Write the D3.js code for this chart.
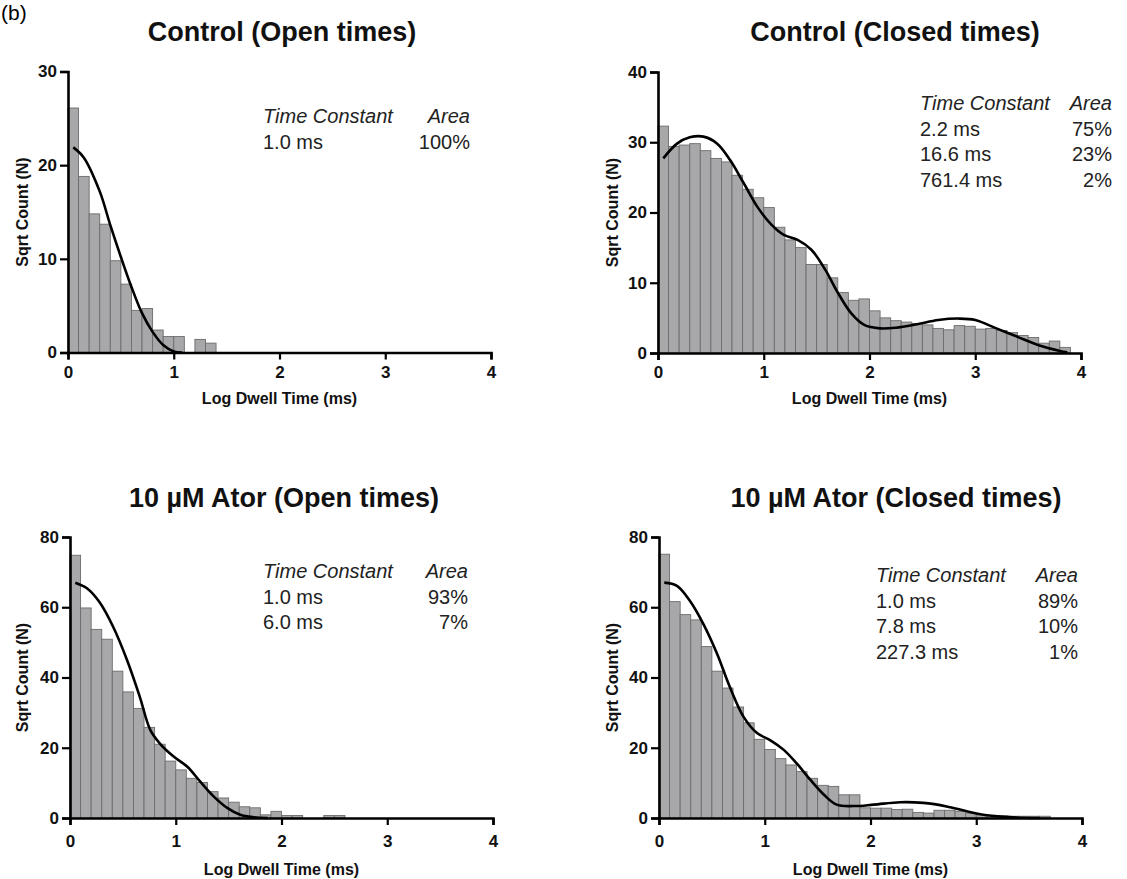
<!DOCTYPE html>
<html>
<head>
<meta charset="utf-8">
<script src="https://cdn.jsdelivr.net/npm/d3@7"></script>
<style>
  body { margin: 0; background: #fff; }
  svg text { font-family: Arial, "Liberation Sans", sans-serif; }
</style>
</head>
<body>
<div class="chart-value"></div>
<script>
// bins are 0.1 log units wide, starting at 0
var binWidth = 0.1;

var xTicks = [0, 1, 2, 3, 4];
var yTicksCtrlOpen = [0, 10, 20, 30];
var yTicksCtrlClosed = [0, 10, 20, 30, 40];
var yTicksAtor = [0, 20, 40, 60, 80];

var titles = ["Control (Open times)", "Control (Closed times)",
              "10 µM Ator (Open times)", "10 µM Ator (Closed times)"];

var ctrlOpenCounts = [26.1, 18.8, 14.8, 13.7, 9.8, 7.3, 4.5, 4.7, 2.4, 1.7, 1.7, 0, 1.4, 1.0];
var ctrlClosedCounts = [32.3, 29.4, 29.6, 29.8, 28.8, 27.7, 27.2, 25.3, 23.3, 22.1,
                        20.7, 17.9, 16.1, 15.0, 12.6, 12.6, 10.7, 8.6, 7.5, 7.7,
                        6.0, 5.0, 4.6, 4.4, 4.2, 4.0, 3.5, 3.3, 3.9, 3.8,
                        3.4, 3.5, 3.2, 2.9, 2.5, 2.2, 1.4, 1.7, 0.8];
var atorOpenCounts = [74.8, 59.8, 53.7, 50.9, 41.8, 35.9, 31.2, 25.8, 21.0, 16.2,
                      13.7, 11.3, 10.1, 7.5, 5.7, 4.5, 3.2, 2.9, 0.9, 1.9,
                      0.7, 0.7, 0, 0, 0.7, 0.7];
var atorClosedCounts = [75.1, 61.6, 57.9, 56.4, 48.8, 41.8, 37.0, 31.6, 27.1, 22.4,
                        19.5, 16.9, 15.1, 13.2, 11.3, 9.3, 9.0, 6.6, 6.6, 2.9,
                        2.8, 2.8, 2.4, 2.5, 1.6, 1.4, 2.2, 2.2, 1.9, 1.4,
                        0.9, 0.7, 0.6, 0.5, 0.5, 0.5, 0.5];

// fitted curves as [log time, sqrt count]
var ctrlOpenFit = [[0.05, 21.9], [0.15, 20.8], [0.3, 17.2], [0.4, 13.6], [0.5, 10.2],
                   [0.6, 7.0], [0.7, 4.2], [0.8, 2.2], [0.9, 0.8], [1.0, 0.1], [1.08, 0]];
var ctrlClosedFit = [[0.05, 27.7], [0.18, 29.8], [0.3, 30.7], [0.43, 30.8], [0.56, 29.8],
                     [0.68, 27.5], [0.81, 24.2], [0.94, 20.8], [1.07, 18.3], [1.19, 16.8],
                     [1.32, 16.1], [1.45, 14.7], [1.58, 11.9], [1.7, 8.6], [1.83, 5.6],
                     [1.95, 4.0], [2.1, 3.5], [2.25, 3.6], [2.45, 4.1], [2.65, 4.7],
                     [2.85, 4.9], [3.0, 4.7], [3.2, 3.5], [3.4, 2.3], [3.6, 1.1],
                     [3.8, 0.3], [3.87, 0.1]];
var atorOpenFit = [[0.05, 67.0], [0.16, 65.4], [0.28, 61.4], [0.41, 54.3], [0.54, 44.9],
                   [0.66, 34.5], [0.76, 25.0], [0.85, 21.2], [0.98, 17.5], [1.11, 14.6],
                   [1.23, 10.4], [1.36, 6.1], [1.49, 2.8], [1.61, 0.9], [1.74, 0.2], [1.87, 0]];
var atorClosedFit = [[0.05, 67.0], [0.17, 66.1], [0.29, 61.9], [0.42, 55.2], [0.55, 46.7],
                     [0.67, 37.3], [0.8, 28.8], [0.93, 24.1], [1.05, 22.2], [1.18, 19.4],
                     [1.3, 15.6], [1.43, 10.9], [1.56, 6.6], [1.68, 3.8], [1.84, 3.4],
                     [2.03, 3.8], [2.28, 4.5], [2.5, 4.3], [2.72, 3.3], [2.91, 1.9],
                     [3.1, 0.8], [3.35, 0.2], [3.6, 0]];

var ctrlOpenTable = [["1.0 ms", "100%"]];
var ctrlClosedTable = [["2.2 ms", "75%"], ["16.6 ms", "23%"], ["761.4 ms", "2%"]];
var atorOpenTable = [["1.0 ms", "93%"], ["6.0 ms", "7%"]];
var atorClosedTable = [["1.0 ms", "89%"], ["7.8 ms", "10%"], ["227.3 ms", "1%"]];

var svg = d3.select(".chart-value")
    .append("svg")
    .attr("width", 1127)
    .attr("height", 879);

// panel letter
svg.append("text")
    .attr("x", 1).attr("y", 20)
    .attr("font-size", "21px")
    .text("(b)");

var plotW = 423, plotH = 281;

function drawPanel(p) {
    let g = svg.append("g")
        .attr("transform", "translate(" + p.left + "," + p.top + ")");

    let x = d3.scaleLinear().domain([0, 4]).range([0, plotW]);
    let y = d3.scaleLinear().domain([0, d3.max(p.yTicks)]).range([plotH, 0]);

    // bars
    g.selectAll(".bar")
        .data(p.counts.map(function(v, i) { return {i: i, v: v}; }).filter(function(d) { return d.v > 0; }))
        .enter().append("rect")
        .attr("class", "bar")
        .attr("x", function(d) { return x(d.i * binWidth); })
        .attr("width", function(d) { return x((d.i + 1) * binWidth) - x(d.i * binWidth); })
        .attr("y", function(d) { return y(d.v); })
        .attr("height", function(d) { return y(0) - y(d.v); })
        .attr("fill", "#a8a8ab")
        .attr("stroke", "#6c6c6c")
        .attr("stroke-width", 0.9);

    // fit line
    g.append("path")
        .datum(p.fit)
        .attr("d", d3.line()
            .x(function(d) { return x(d[0]); })
            .y(function(d) { return y(d[1]); })
            .curve(d3.curveCatmullRom))
        .attr("fill", "none")
        .attr("stroke", "#000")
        .attr("stroke-width", 2.6);

    // axes
    let xAxis = g.append("g")
        .attr("transform", "translate(0," + plotH + ")")
        .call(d3.axisBottom(x).tickValues(xTicks).tickFormat(d3.format("d"))
            .tickSizeOuter(0).tickSize(7).tickPadding(p.tickPad));
    let yAxis = g.append("g")
        .call(d3.axisLeft(y).tickValues(p.yTicks).tickSizeOuter(0).tickSize(8).tickPadding(3));

    [xAxis, yAxis].forEach(function(a) {
        a.select(".domain").attr("stroke", "#000").attr("stroke-width", 2.6);
        a.selectAll(".tick line").attr("stroke", "#000").attr("stroke-width", 2.2);
        a.selectAll(".tick text")
            .attr("fill", "#111")
            .attr("font-size", "17px")
            .attr("font-weight", "bold")
            .style("font-family", "Arial, 'Liberation Sans', sans-serif");
    });

    g.append("text")
        .attr("x", x(2)).attr("y", plotH + p.xLabelOff)
        .attr("text-anchor", "middle")
        .attr("font-size", "16px").attr("font-weight", "bold")
        .attr("fill", "#111")
        .text("Log Dwell Time (ms)");

    g.append("text")
        .attr("transform", "translate(" + (p.yLabelX - p.left) + "," + (plotH / 2) + ") rotate(-90)")
        .attr("text-anchor", "middle")
        .attr("dy", "0.35em")
        .attr("font-size", "16px").attr("font-weight", "bold")
        .attr("fill", "#111")
        .text("Sqrt Count (N)");

    // title
    g.append("text")
        .attr("x", p.titleX - p.left).attr("y", p.titleY - p.top)
        .attr("text-anchor", "middle")
        .attr("font-size", "27px").attr("font-weight", "bold")
        .attr("fill", "#111")
        .text(p.title);

    // fit table
    let t = g.append("g")
        .attr("transform", "translate(" + (p.textX - p.left) + "," + (p.textY - p.top) + ")");
    let colR = p.textR - p.textX;
    t.append("text").attr("x", 0).attr("y", 0)
        .attr("font-size", "20px").attr("font-style", "italic").attr("fill", "#222")
        .text("Time Constant");
    t.append("text").attr("x", colR).attr("y", 0)
        .attr("text-anchor", "end")
        .attr("font-size", "20px").attr("font-style", "italic").attr("fill", "#222")
        .text("Area");
    p.table.forEach(function(row, i) {
        t.append("text").attr("x", 0).attr("y", (i + 1) * 25.7)
            .attr("font-size", "20px").attr("fill", "#222")
            .text(row[0]);
        t.append("text").attr("x", colR).attr("y", (i + 1) * 25.7)
            .attr("text-anchor", "end")
            .attr("font-size", "20px").attr("fill", "#222")
            .text(row[1]);
    });
}

drawPanel({left: 68, top: 71.5, yTicks: yTicksCtrlOpen, counts: ctrlOpenCounts, fit: ctrlOpenFit,
           title: titles[0], titleX: 282, titleY: 41, yLabelX: 22, tickPad: 6, xLabelOff: 51,
           table: ctrlOpenTable, textX: 263, textY: 123, textR: 470});
drawPanel({left: 658, top: 72, yTicks: yTicksCtrlClosed, counts: ctrlClosedCounts, fit: ctrlClosedFit,
           title: titles[1], titleX: 895, titleY: 41, yLabelX: 612, tickPad: 6, xLabelOff: 51,
           table: ctrlClosedTable, textX: 920, textY: 110, textR: 1112});
drawPanel({left: 70, top: 537, yTicks: yTicksAtor, counts: atorOpenCounts, fit: atorOpenFit,
           title: titles[2], titleX: 284, titleY: 507, yLabelX: 22, tickPad: 10, xLabelOff: 57,
           table: atorOpenTable, textX: 263, textY: 578, textR: 468});
drawPanel({left: 659, top: 537, yTicks: yTicksAtor, counts: atorClosedCounts, fit: atorClosedFit,
           title: titles[3], titleX: 896, titleY: 507, yLabelX: 612, tickPad: 10, xLabelOff: 57,
           table: atorClosedTable, textX: 876, textY: 582, textR: 1078});
</script>
</body>
</html>
